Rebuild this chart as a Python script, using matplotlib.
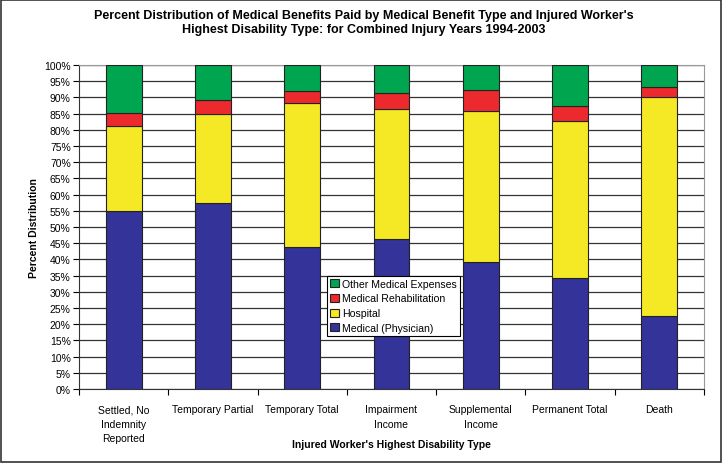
import matplotlib.pyplot as plt
import numpy as np
from matplotlib.ticker import FixedLocator

plt.rcParams['font.family'] = ['Liberation Sans', 'DejaVu Sans']

categories = ["Settled, No\nIndemnity\nReported", "Temporary Partial", "Temporary Total",
              "Impairment\nIncome", "Supplemental\nIncome", "Permanent Total", "Death"]
physician = [55.0, 57.4, 43.7, 46.3, 39.3, 34.2, 22.6]
hospital = [26.1, 27.6, 44.5, 40.1, 46.6, 48.4, 67.6]
rehab = [4.2, 4.3, 3.7, 4.9, 6.5, 4.8, 2.9]
other = [14.7, 10.7, 8.1, 8.7, 7.6, 12.6, 6.9]

series = [
    ("Medical (Physician)", physician, "#333399"),
    ("Hospital", hospital, "#F5E925"),
    ("Medical Rehabilitation", rehab, "#EC2A2E"),
    ("Other Medical Expenses", other, "#00A64F"),
]

fig = plt.figure(figsize=(7.27, 4.64), dpi=100)
ax = fig.add_axes([0.1087, 0.1595, 0.8595, 0.6985])

x = np.arange(len(categories))
bottom = np.zeros(len(categories))
handles = []
for name, vals, color in series:
    h = ax.bar(x, vals, width=0.4, bottom=bottom, color=color,
               edgecolor="#222222", linewidth=0.8, label=name, zorder=3)
    handles.append(h)
    bottom += np.array(vals)

ax.set_xlim(-0.5, len(categories) - 0.5)
ax.set_ylim(0, 100)
ax.set_yticks(np.arange(0, 101, 5))
ax.set_yticklabels([f"{v}%" for v in range(0, 101, 5)], fontsize=7.5)
ax.yaxis.grid(True, color="#333333", linewidth=0.9, zorder=0)
ax.set_axisbelow(True)

ax.set_xticks(x)
ax.set_xticklabels(categories, fontsize=7.5, linespacing=1.55)
ax.tick_params(axis="x", which="major", length=0, pad=11)
ax.xaxis.set_minor_locator(FixedLocator(np.arange(-0.5, len(categories), 1.0)))
ax.tick_params(axis="x", which="minor", length=4, direction="out", width=0.8)
ax.tick_params(axis="y", length=4, width=0.8, pad=2)

for s in ["top", "right"]:
    ax.spines[s].set_color("#999999")
for s in ["left", "bottom"]:
    ax.spines[s].set_color("#333333")

ax.set_ylabel("Percent Distribution", fontsize=7.5, fontweight="bold", labelpad=4)
ax.set_xlabel("Injured Worker's Highest Disability Type", fontsize=7.5, fontweight="bold")
ax.xaxis.set_label_coords(0.5, -0.155)

fig.suptitle("Percent Distribution of Medical Benefits Paid by Medical Benefit Type and Injured Worker's\n"
             "Highest Disability Type: for Combined Injury Years 1994-2003",
             fontsize=9, fontweight="bold", y=0.978)

leg = ax.legend(handles[::-1], [s[0] for s in series][::-1], loc="lower left",
                bbox_to_anchor=(0.397, 0.163), fontsize=7.6, frameon=True,
                fancybox=False, edgecolor="black", framealpha=1,
                handlelength=0.8, handleheight=0.8, handletextpad=0.3,
                labelspacing=0.45, borderpad=0.3, borderaxespad=0)
leg.get_frame().set_linewidth(0.8)
leg.set_zorder(5)

fig.patches.append(plt.Rectangle((0.002, 0.002), 0.99, 0.996, transform=fig.transFigure,
                                 fill=False, edgecolor="#333333", linewidth=1.2))

fig.savefig("out.png", dpi=100)
